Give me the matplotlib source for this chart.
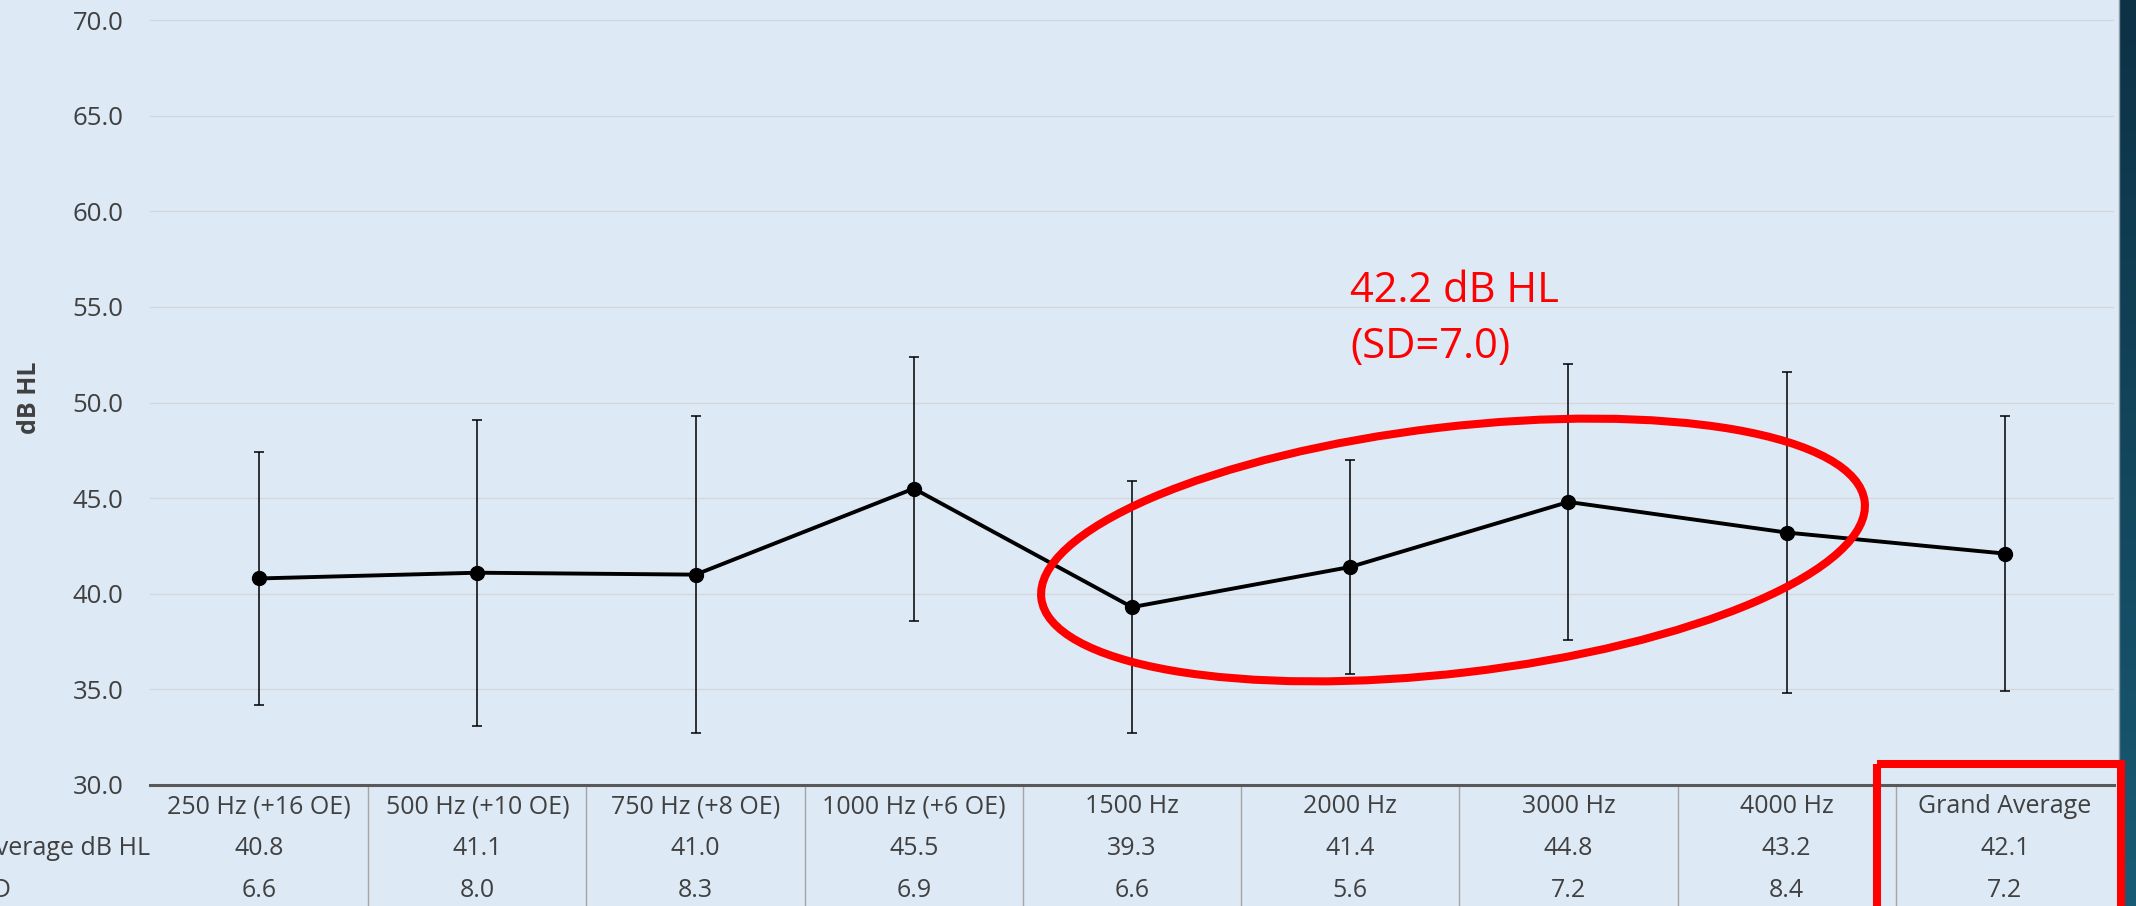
import numpy as np
import matplotlib.pyplot as plt
from matplotlib.patches import Ellipse, Rectangle

categories = ['250 Hz (+16 OE)', '500 Hz (+10 OE)', '750 Hz (+8 OE)', '1000 Hz (+6 OE)',
              '1500 Hz', '2000 Hz', '3000 Hz', '4000 Hz', 'Grand Average']
means = [40.8, 41.1, 41.0, 45.5, 39.3, 41.4, 44.8, 43.2, 42.1]
sds = [6.6, 8.0, 8.3, 6.9, 6.6, 5.6, 7.2, 8.4, 7.2]
row_labels = ['Average dB HL', 'SD']
yticks = [30, 35, 40, 45, 50, 55, 60, 65, 70]
note_lines = ['42.2 dB HL', '(SD=7.0)']

plt.rcParams['font.family'] = ['Open Sans', 'DejaVu Sans']

W, H = 2136, 906
BG = '#DDE9F5'
TXT = '#404040'

fig = plt.figure(figsize=(W / 100, H / 100), dpi=100)
fig.patch.set_facecolor(BG)

# plot area: 150..2114 px wide, from top of image down to 785 px
ax = fig.add_axes([150 / W, (H - 785) / H, 1964 / W, 785 / H])
ax.set_facecolor(BG)

x = np.arange(len(categories))
ax.errorbar(x, means, yerr=sds, fmt='none', ecolor='black', elinewidth=1.1,
            capsize=3.5, capthick=1.1, zorder=2)
ax.plot(x, means, color='black', lw=2.8, marker='o', ms=10, zorder=3)

ax.set_xlim(-0.5, len(categories) - 0.5)
ax.set_ylim(30, 70 + 20 / 19.125)
ax.set_yticks(yticks)
ax.set_yticklabels(['%.1f' % v for v in yticks])
ax.tick_params(axis='y', length=0, pad=19, labelsize=18.5, labelcolor=TXT)
ax.set_xticks([])
ax.grid(axis='y', color='#d3d6da', lw=0.9)
ax.set_axisbelow(True)
for s in ['top', 'right', 'left']:
    ax.spines[s].set_visible(False)
ax.spines['bottom'].set_color('#595959')
ax.spines['bottom'].set_linewidth(2.2)

# data table under the axis
xt = ax.get_xaxis_transform()
row_y = [-0.028, -0.0803, -0.135]
for i, cat in enumerate(categories):
    ax.text(i, row_y[0], cat, transform=xt, ha='center', va='center', fontsize=18, color=TXT)
    ax.text(i, row_y[1], '%.1f' % means[i], transform=xt, ha='center', va='center', fontsize=18, color=TXT)
    ax.text(i, row_y[2], '%.1f' % sds[i], transform=xt, ha='center', va='center', fontsize=18, color=TXT)
for b in np.arange(0.5, len(categories) - 1):
    ax.plot([b, b], [0, -0.2], transform=xt, clip_on=False, color='#a6a6a6', lw=1)
# row headers are cut off by the left edge, as in the slide
for lab, y in zip(row_labels, row_y[1:]):
    ax.text(-0.0866, y, lab, transform=ax.transAxes, ha='left', va='center', fontsize=18, color=TXT)

fig.text(29 / W, 1 - 398 / H, 'dB HL', rotation=90, ha='center', va='center',
         fontsize=18, fontweight='bold', color=TXT)

# red note
ax.text(5.0, 55.25, note_lines[0], ha='left', va='baseline', fontsize=30, color='#FF0000')
ax.text(5.0, 52.33, note_lines[1], ha='left', va='baseline', fontsize=30, color='#FF0000')

# overlay in pixel coordinates for the slide decorations
ov = fig.add_axes([0, 0, 1, 1])
ov.axis('off')
ov.patch.set_alpha(0)

grad = np.linspace(0, 1, 256).reshape(-1, 1)
cmap = plt.matplotlib.colors.LinearSegmentedColormap.from_list('panel', ['#0d3145', '#185b74'])
ov.imshow(grad, cmap=cmap, extent=[2119, W, H, 0], aspect='auto', zorder=1)
ov.plot([2119, 2119], [0, H], color='#8d9ca6', lw=1, zorder=2)

ov.add_patch(Ellipse((1453, 550), 829, 246, angle=-6.7, fill=False,
                     edgecolor='#FF0000', lw=5.8, zorder=3))
ov.add_patch(Rectangle((1877, 764), 244, 300, fill=False,
                       edgecolor='#FF0000', lw=5.8, zorder=3))
ov.set_xlim(0, W)
ov.set_ylim(H, 0)

fig.savefig('out.png', dpi=100, facecolor=BG)
